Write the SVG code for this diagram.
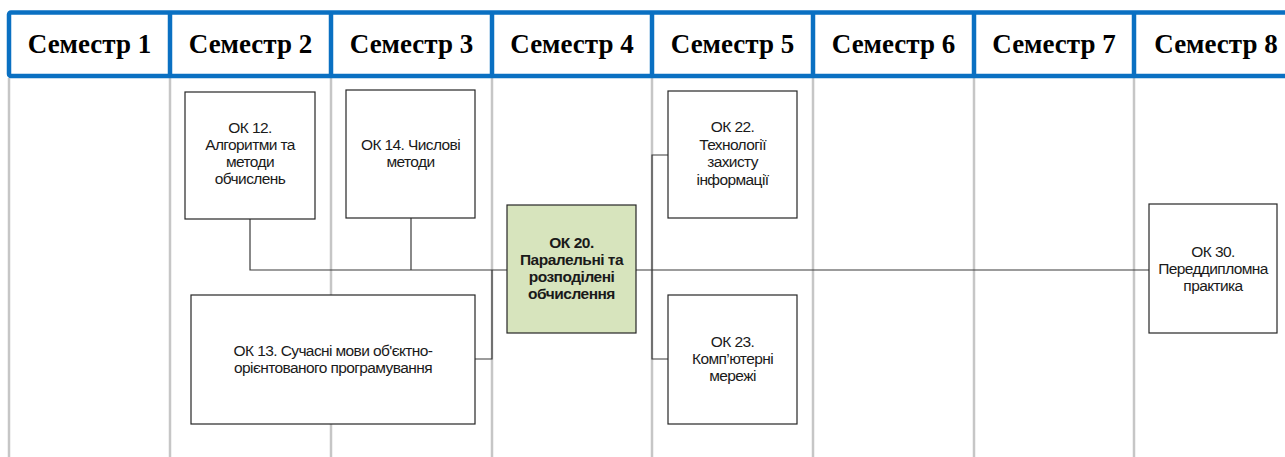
<svg xmlns="http://www.w3.org/2000/svg" width="1285" height="457" viewBox="0 0 1285 457">
  <style>
    .grid { stroke: #c6c6c6; stroke-width: 2.5; fill: none; }
    .frame { stroke: #0a70c2; stroke-width: 4.5; fill: #ffffff; }
    .div { stroke: #0a70c2; stroke-width: 4.5; }
    .head { font-family: "Liberation Serif", "Times New Roman", serif; font-weight: bold; font-size: 27px; fill: #000; text-anchor: middle; }
    .box { fill: #ffffff; stroke: #262626; stroke-width: 1.2; }
    .key { fill: #d7e4bd; stroke: #262626; stroke-width: 1.2; }
    .lbl { font-family: "Liberation Sans", Arial, sans-serif; font-size: 15.5px; fill: #1a1a1a; text-anchor: middle; letter-spacing: -0.6px; }
    .bold { font-weight: bold; letter-spacing: -0.5px; }
    .wire { stroke: #3a3a3a; stroke-width: 1.2; fill: none; }
  </style>

  <rect width="1285" height="457" fill="#ffffff"/>

  <!-- semester column rules -->
  <g id="grid">
    <line class="grid" x1="9" y1="78" x2="9" y2="457"/>
    <line class="grid" x1="170" y1="78" x2="170" y2="457"/>
    <line class="grid" x1="331" y1="78" x2="331" y2="457"/>
    <line class="grid" x1="492" y1="78" x2="492" y2="457"/>
    <line class="grid" x1="652" y1="78" x2="652" y2="457"/>
    <line class="grid" x1="813" y1="78" x2="813" y2="457"/>
    <line class="grid" x1="974" y1="78" x2="974" y2="457"/>
    <line class="grid" x1="1134" y1="78" x2="1134" y2="457"/>
  </g>

  <!-- semester header band -->
  <g id="header">
    <rect class="frame" x="9" y="12.5" width="1300" height="63.5" rx="2"/>
    <line class="div" x1="170" y1="12.5" x2="170" y2="76"/>
    <line class="div" x1="331" y1="12.5" x2="331" y2="76"/>
    <line class="div" x1="492" y1="12.5" x2="492" y2="76"/>
    <line class="div" x1="652" y1="12.5" x2="652" y2="76"/>
    <line class="div" x1="813" y1="12.5" x2="813" y2="76"/>
    <line class="div" x1="974" y1="12.5" x2="974" y2="76"/>
    <line class="div" x1="1134" y1="12.5" x2="1134" y2="76"/>
    <text class="head" x="89.5" y="53">Семестр 1</text>
    <text class="head" x="250.5" y="53">Семестр 2</text>
    <text class="head" x="411.5" y="53">Семестр 3</text>
    <text class="head" x="572" y="53">Семестр 4</text>
    <text class="head" x="732.5" y="53">Семестр 5</text>
    <text class="head" x="893.5" y="53">Семестр 6</text>
    <text class="head" x="1054" y="53">Семестр 7</text>
    <text class="head" x="1216" y="53">Семестр 8</text>
  </g>

  <!-- prerequisite links -->
  <g id="connectors">
    <polyline class="wire" points="250,219 250,270 507,270"/>
    <line class="wire" x1="411" y1="218" x2="411" y2="270"/>
    <polyline class="wire" points="475,359 492,359 492,270"/>
    <line class="wire" x1="636" y1="270" x2="1149" y2="270"/>
    <polyline class="wire" points="668,155 652,155 652,359 668,359"/>
  </g>

  <g id="ok12">
    <rect class="box" x="185" y="92" width="130" height="127"/>
    <text class="lbl" x="250" y="133">ОК 12.</text>
    <text class="lbl" x="250" y="150">Алгоритми та</text>
    <text class="lbl" x="250" y="167">методи</text>
    <text class="lbl" x="250" y="184">обчислень</text>
  </g>

  <g id="ok14">
    <rect class="box" x="346" y="90" width="129" height="128"/>
    <text class="lbl" x="410.5" y="150">ОК 14. Числові</text>
    <text class="lbl" x="410.5" y="167">методи</text>
  </g>

  <g id="ok13">
    <rect class="box" x="191" y="295" width="284" height="129"/>
    <text class="lbl" x="333" y="356">ОК 13. Сучасні мови об'єктно-</text>
    <text class="lbl" x="333" y="373">орієнтованого програмування</text>
  </g>

  <g id="ok20">
    <rect class="key" x="507" y="205" width="129" height="128"/>
    <text class="lbl bold" x="571.5" y="248">ОК 20.</text>
    <text class="lbl bold" x="571.5" y="265">Паралельні та</text>
    <text class="lbl bold" x="571.5" y="282">розподілені</text>
    <text class="lbl bold" x="571.5" y="299">обчислення</text>
  </g>

  <g id="ok22">
    <rect class="box" x="668" y="91" width="129" height="127"/>
    <text class="lbl" x="732.5" y="132">ОК 22.</text>
    <text class="lbl" x="732.5" y="149.5">Технології</text>
    <text class="lbl" x="732.5" y="167">захисту</text>
    <text class="lbl" x="732.5" y="184.5">інформації</text>
  </g>

  <g id="ok23">
    <rect class="box" x="668" y="295" width="129" height="129"/>
    <text class="lbl" x="732.5" y="347">ОК 23.</text>
    <text class="lbl" x="732.5" y="364">Комп’ютерні</text>
    <text class="lbl" x="732.5" y="381">мережі</text>
  </g>

  <g id="ok30">
    <rect class="box" x="1149" y="204" width="128" height="129"/>
    <text class="lbl" x="1213" y="257">ОК 30.</text>
    <text class="lbl" x="1213" y="274">Переддипломна</text>
    <text class="lbl" x="1213" y="291">практика</text>
  </g>
</svg>
